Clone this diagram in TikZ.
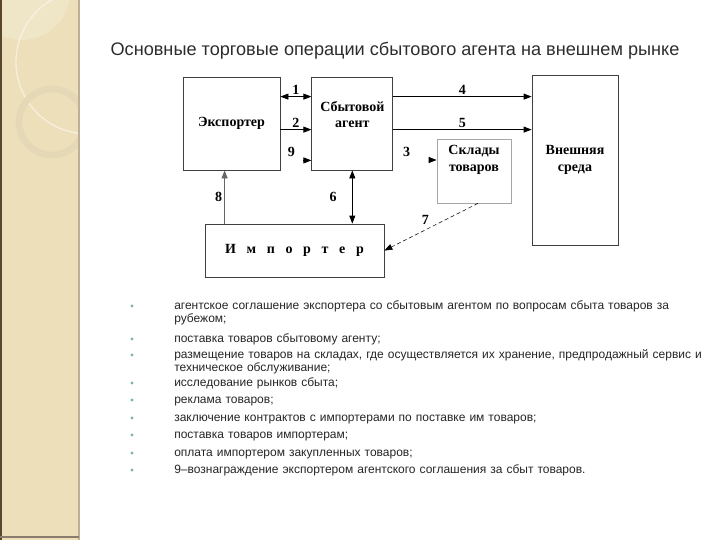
\documentclass[tikz,border=0pt]{standalone}
\usepackage{fontspec}
\setmainfont{Liberation Serif}
\setsansfont{Liberation Sans}
\usepackage{tikz}
\usetikzlibrary{arrows.meta,positioning,calc}

\definecolor{sidebar}{RGB}{236,223,186}
\definecolor{sidedark}{RGB}{90,70,45}
\definecolor{sideline}{RGB}{190,175,150}
\definecolor{ringcol}{RGB}{228,216,182}
\definecolor{dotcol}{RGB}{120,185,175}
\definecolor{titletext}{RGB}{45,45,45}

\begin{document}
\begin{tikzpicture}[
    x=0.75pt, y=-0.75pt,
    box/.style     = {rectangle, draw=black!75, line width=0.6pt,
                      font=\bfseries\fontsize{10.5}{12.5}\selectfont, align=center, inner sep=0pt},
    lightbox/.style= {box, draw=black!35},
    arr/.style     = {-{Triangle[length=6pt,width=4.5pt]}, line width=0.6pt},
    dblarr/.style  = {{Triangle[length=6pt,width=4.5pt]}-{Triangle[length=6pt,width=4.5pt]},
                      line width=0.6pt},
    dasharr/.style = {arr, densely dashed, line width=0.4pt},
    num/.style     = {font=\bfseries\fontsize{10.5}{12.5}\selectfont, inner sep=1.5pt},
    item/.style    = {anchor=base west, font=\sffamily\fontsize{9}{9.75}\selectfont,
                      text width=400pt, align=left, inner sep=0pt, text=black!85}
]

% background and side bar
\useasboundingbox (0,0) rectangle (720,540);
\fill[white] (0,0) rectangle (720,540);
\begin{scope}
  \clip (0,0) rectangle (79,540);
  \fill[sidebar] (0,0) rectangle (79,540);
  \fill[white, opacity=.2] (22,-8) circle (48);
  \draw[white, opacity=.5, line width=1pt] (88,62) circle (72);
  \draw[ringcol, line width=5pt] (52,122) circle (33);
\end{scope}
\draw[sidedark, line width=1.5pt] (0.5,0) -- (0.5,540);
\draw[sideline, line width=1pt] (79,0) -- (79,540);
\draw[sidedark!70, line width=1pt] (0,537) -- (79,537);

% title
\node[font=\sffamily\fontsize{13.6}{16}\selectfont, text=titletext] (title) at (395,51)
     {Основные торговые операции сбытового агента на внешнем рынке};

% boxes
\node[box, minimum width=72.75pt, minimum height=69.75pt] (exp) at (231.5,123.5) {Экспортер};
\node[box, minimum width=60.75pt, minimum height=69.75pt, right=23.25pt of exp,
      label={[font=\bfseries\fontsize{10.5}{12.5}\selectfont, align=center, yshift=6.75pt]center:Сбытовой\\агент}] (agent) {};
\node[lightbox, minimum width=55.5pt, minimum height=48pt,
      label={[font=\bfseries\fontsize{10.5}{12.5}\selectfont, align=center, yshift=8.25pt]center:Склады\\товаров}] (store) at (474,171) {};
\node[box, minimum width=64.5pt, minimum height=127.5pt] (env) at (575,160) {Внешняя\\среда};
\node[box, minimum width=134.25pt, minimum height=39.75pt] (imp) at (294.5,250.5)
     {И\hspace{8pt}м\hspace{8pt}п\hspace{8pt}о\hspace{8pt}р\hspace{8pt}т\hspace{8pt}е\hspace{8pt}р};

% exporter <-> agent
\draw[dblarr] ($(exp.north east)+(0,20)$) -- node[num, above] {1} ($(agent.north west)+(0,20)$);
\draw[arr] ($(exp.north east)+(0,53)$) -- node[num, above] {2} ($(agent.north west)+(0,53)$);
\node[num] (n9) at ($(agent.south west)+(-20,-18)$) {9};
\draw[arr] ($(agent.south west)+(-8,-10)$) -- ($(agent.south west)+(0,-10)$);

% agent -> environment
\coordinate (a4) at ($(agent.north east)+(0,20)$);
\coordinate (a5) at ($(agent.north east)+(0,53)$);
\draw[arr] (a4) -- node[num, above] {4} (a4 -| env.west);
\draw[arr] (a5) -- node[num, above] {5} (a5 -| env.west);

% agent -> store
\node[num] (n3) at ($(store.west)+(-30,-19)$) {3};
\draw[arr] ($(store.west)+(-8,-11)$) -- ($(store.west)+(0,-11)$);

% store -> importer
\draw[dasharr] ($(store.south)+(4,0)$) -- node[num, above left] {7} (imp.east);

% importer -> exporter, importer <-> agent
\coordinate (b8) at ($(imp.north west)+(20,0)$);
\draw[arr, draw=black!60] (b8) -- node[num, left] {8} (b8 |- exp.south);
\draw[dblarr] (agent.south) -- node[num, left=10pt] {6} (agent.south |- imp.north);

% list
\foreach \yb/\txt [count=\i] in {
    309/{агентское соглашение экспортера со сбытовым агентом по вопросам сбыта товаров за\\рубежом;},
    342/{поставка товаров сбытовому агенту;},
    358/{размещение товаров на складах, где осуществляется их хранение, предпродажный сервис и\\техническое обслуживание;},
    386/{исследование рынков сбыта;},
    403/{реклама товаров;},
    421/{заключение контрактов с импортерами по поставке им товаров;},
    438/{поставка товаров импортерам;},
    456/{оплата импортером закупленных товаров;},
    473/{9–вознаграждение экспортером агентского соглашения за сбыт товаров.}} {
  \fill[dotcol] (132,\yb-3) circle (1.6);
  \node[item] (item-\i) at (174,\yb) {\txt};
}

\end{tikzpicture}
\end{document}
